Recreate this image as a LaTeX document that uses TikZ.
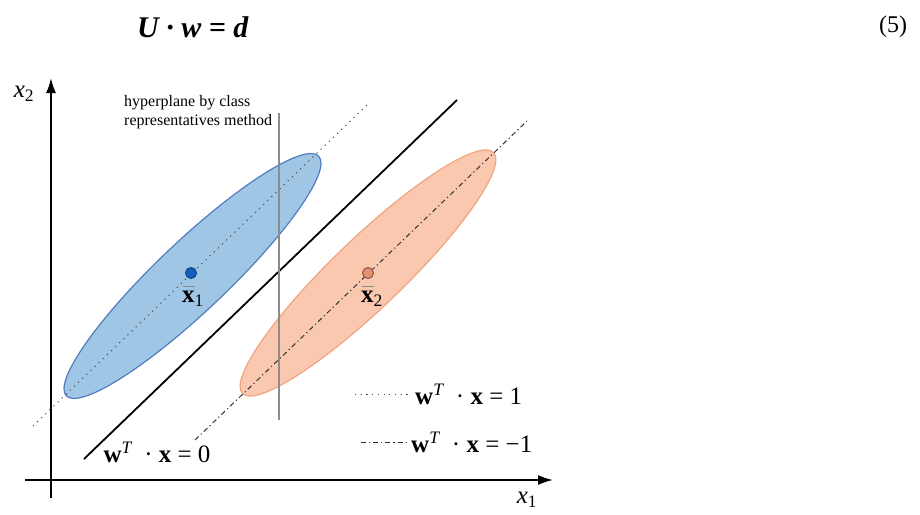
\documentclass[tikz,border=0pt]{standalone}
\usepackage{fontspec}
\setmainfont{Liberation Serif}
\usetikzlibrary{positioning,arrows.meta}

\definecolor{blaufill}{RGB}{160,198,230}
\definecolor{blaurand}{RGB}{80,125,190}
\definecolor{blaupunkt}{RGB}{20,95,185}
\definecolor{orangefill}{RGB}{249,200,175}
\definecolor{orangerand}{RGB}{240,165,130}
\definecolor{orangepunkt}{RGB}{225,145,110}

\begin{document}
\begin{tikzpicture}[x=1pt, y=-1pt,
        every node/.style={font=\fontsize{25}{27}\selectfont, inner sep=0pt},
        achse/.style={line width=1.8pt, -{Latex[length=15pt,width=10pt]}},
        wolke/.style={line width=1.2pt},
        trenn/.style={line width=1.8pt, black},
        eins/.style={line width=1pt, black!70, dash pattern=on 1.2pt off 4.5pt},
        minuseins/.style={line width=1pt, black!80, dash pattern=on 5pt off 3pt on 1.2pt off 3pt},
        klasse/.style={line width=1.3pt, black!45},
        mittel/.style={circle, minimum size=11pt, line width=1pt},
        balken/.style={line width=1pt, black!45}
    ]
        \useasboundingbox (0,0) rectangle (920,514);

        \node (gl)  at (193,27) {\fontsize{30}{32}\selectfont\textbf{\textit{U~·~w~=~d}}};
        \node (nr)  at (893,27) {\fontsize{24}{26}\selectfont (5)};

        \coordinate (o1) at (25,480);
        \coordinate (e1) at (553,480);
        \coordinate (o2) at (51,498);
        \coordinate (e2) at (51,78);
        \draw[achse] (o1) -- (e1);
        \draw[achse] (o2) -- (e2);
        \node (lx1) at (527,500) {\textit{x}\textsubscript{1}};
        \node (lx2) at (24,94)   {\textit{x}\textsubscript{2}};

        \filldraw[wolke, fill=blaufill, draw=blaurand]
            [shift={(192.5,276)}, rotate=43.5] (0,0) ellipse [x radius=174, y radius=35];
        \filldraw[wolke, fill=orangefill, draw=orangerand]
            [shift={(368,273)}, rotate=43.8] (0,0) ellipse [x radius=174, y radius=35];

        \coordinate (p1) at (33,426);
        \coordinate (q1) at (367,105);
        \coordinate (p0) at (84,459);
        \coordinate (q0) at (457,100);
        \coordinate (pm) at (195,440);
        \coordinate (qm) at (527,121);
        \draw[eins] (p1) -- (q1);
        \draw[trenn] (p0) -- (q0);
        \draw[minuseins] (pm) -- (qm);

        \coordinate (ko) at (279,113);
        \coordinate (ku) at (279,420);
        \draw[klasse] (ko) -- (ku);
        \node[anchor=north west, align=left, font=\fontsize{16}{19}\selectfont] (hp) at (124,95)
            {hyperplane by class\\representatives method};

        \node[mittel, fill=blaupunkt, draw=blaupunkt!70!black] (m1) at (191,273) {};
        \node[mittel, fill=orangepunkt, draw=orangepunkt!60!black] (m2) at (368,273) {};
        \node[font=\fontsize{25}{27}\selectfont] (lm1) at (193,299) {\textbf{x}\textsubscript{1}};
        \node[font=\fontsize{25}{27}\selectfont] (lm2) at (372,299) {\textbf{x}\textsubscript{2}};
        \foreach \m in {lm1,lm2} \draw[balken] ([xshift=-10pt,yshift=5pt]\m.north) -- ++(12,0);

        \node (g0) at (157,452) {\textbf{w}\textsuperscript{\itshape T}~~·~\textbf{x}~=~0};
        \coordinate (le1) at (355,394);
        \coordinate (le2) at (408,394);
        \coordinate (lf1) at (361,442);
        \coordinate (lf2) at (408,442);
        \draw[eins] (le1) -- (le2);
        \draw[minuseins] (lf1) -- (lf2);
        \node[right=7pt of le2] (g1) {\textbf{w}\textsuperscript{\itshape T}~~·~\textbf{x}~=~1};
        \node[right=3pt of lf2] (g2) {\textbf{w}\textsuperscript{\itshape T}~~·~\textbf{x}~=~−1};
    \end{tikzpicture}
\end{document}
